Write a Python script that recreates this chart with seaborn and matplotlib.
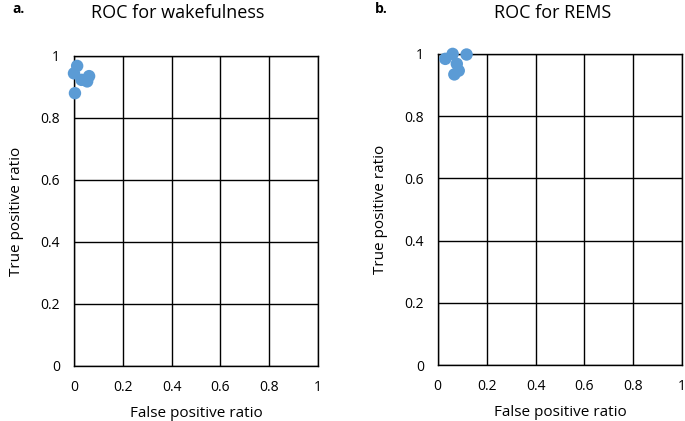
import seaborn as sns
import matplotlib.pyplot as plt
import pandas as pd

# ROC-Punkte
wake_fpr = [0.013, 0.000, 0.031, 0.054, 0.062, 0.004]
wake_tpr = [0.968, 0.944, 0.923, 0.918, 0.935, 0.880]
rems_fpr = [0.031, 0.061, 0.118, 0.078, 0.086, 0.068]
rems_tpr = [0.984, 1.000, 0.998, 0.968, 0.946, 0.934]

ticks = [0, 0.2, 0.4, 0.6, 0.8, 1]
tick_labels = ['0', '0.2', '0.4', '0.6', '0.8', '1']

sns.set_style('white')
plt.rcParams['font.family'] = ['Open Sans', 'DejaVu Sans']
plt.rcParams['text.color'] = 'black'
plt.rcParams['axes.labelcolor'] = 'black'
plt.rcParams['xtick.color'] = 'black'
plt.rcParams['ytick.color'] = 'black'

fig = plt.figure(figsize=(6.85, 4.21), dpi=100)
ax1 = fig.add_axes([0.108, 0.131, 0.356, 0.736])
ax2 = fig.add_axes([0.639, 0.133, 0.357, 0.739])

panels = [
    (ax1, wake_fpr, wake_tpr),
    (ax2, rems_fpr, rems_tpr),
]

for ax, fpr, tpr in panels:
    df = pd.DataFrame({'fpr': fpr, 'tpr': tpr})
    sns.scatterplot(data=df, x='fpr', y='tpr', ax=ax, color='#5B9BD5',
                    s=80, edgecolor='none', zorder=3, clip_on=False)
    ax.set_xlim(0, 1)
    ax.set_ylim(0, 1)
    ax.set_xticks(ticks)
    ax.set_yticks(ticks)
    ax.set_xticklabels(tick_labels, fontsize=10)
    ax.set_yticklabels(tick_labels, fontsize=10)
    ax.tick_params(length=0, pad=10)
    ax.grid(True, color='black', linewidth=1)
    for sp in ax.spines.values():
        sp.set_visible(True)
        sp.set_color('black')
        sp.set_linewidth(1)
    ax.set_xlabel('False positive ratio', fontsize=11, labelpad=8)
    ax.set_ylabel('True positive ratio', fontsize=11, labelpad=12)

fig.text(178 / 685, 1 - 13 / 421, 'ROC for wakefulness', ha='center', va='center', fontsize=13)
fig.text(553 / 685, 1 - 13 / 421, 'ROC for REMS', ha='center', va='center', fontsize=13)
fig.text(12 / 685, 1 - 9 / 421, 'a.', ha='left', va='center', fontsize=10, fontweight='bold')
fig.text(375 / 685, 1 - 9 / 421, 'b.', ha='left', va='center', fontsize=10, fontweight='bold')

plt.savefig('out.png', dpi=100)
